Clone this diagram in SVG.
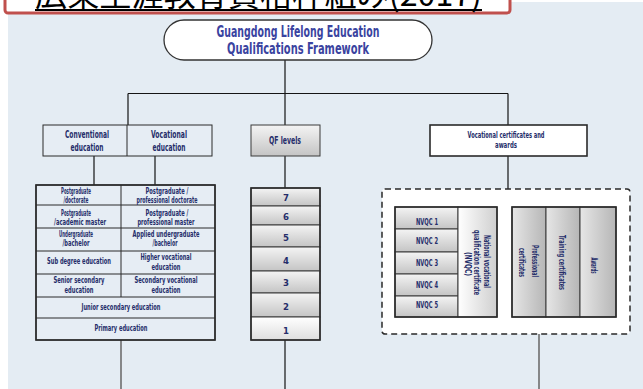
<svg xmlns="http://www.w3.org/2000/svg" width="643" height="389" viewBox="0 0 643 389">
<style>
.t{font-family:"Liberation Sans Narrow","DejaVu Sans Condensed","Liberation Sans",sans-serif;font-stretch:condensed;font-weight:bold;fill:#252d6a;text-anchor:middle;font-size:8.5px}
.hd{font-size:10px}
.num{font-size:9.5px}
.pt{font-family:"Liberation Sans Narrow","DejaVu Sans Condensed","Liberation Sans",sans-serif;font-stretch:condensed;font-weight:bold;font-size:15px;fill:#3a43a0;text-anchor:middle}
.ln{stroke:#151515;stroke-width:1.2;fill:none}
.lg{stroke:#6e6e6e;stroke-width:1.6;fill:none}
.cell{fill:#e6edf4;stroke:#2b2b2b;stroke-width:1}
.gbox{fill:url(#gv);stroke:#3a3a3a;stroke-width:1}
.wbox{fill:url(#gw);stroke:#3a3a3a;stroke-width:1}
.hbox{fill:url(#gh);stroke:#3a3a3a;stroke-width:1}
.edge{fill:none;stroke:#2a2a2a;stroke-width:1.6}
</style>
<defs>
<linearGradient id="gv" x1="0" y1="0" x2="0" y2="1"><stop offset="0" stop-color="#f4f4f4"/><stop offset="1" stop-color="#c4c4c4"/></linearGradient>
<linearGradient id="gw" x1="0" y1="0" x2="0" y2="1"><stop offset="0" stop-color="#ffffff"/><stop offset="1" stop-color="#dedede"/></linearGradient>
<linearGradient id="gh" x1="0" y1="0" x2="1" y2="0"><stop offset="0" stop-color="#e6e6e6"/><stop offset="1" stop-color="#b6b6b6"/></linearGradient>
<linearGradient id="gn" x1="0" y1="0" x2="1" y2="0"><stop offset="0" stop-color="#ffffff"/><stop offset="1" stop-color="#cfcfcf"/></linearGradient>
</defs>

<rect x="8" y="2" width="635" height="387" fill="#e4ecf3"/>

<g id="title">
<rect x="5" y="-12" width="505" height="25" rx="3" fill="#ffffff" stroke="#c0504d" stroke-width="3"/>
<text x="35" y="6" font-family="'Noto Sans CJK JP','Noto Sans CJK SC',sans-serif" font-size="32" fill="#000" textLength="447" lengthAdjust="spacingAndGlyphs">広東生涯教育資格枠組み(2017)</text>
<line x1="35" y1="10" x2="482" y2="10" stroke="#000" stroke-width="2"/>
</g>

<g id="connectors">
<path class="ln" d="M285 60V125M128 93.5H508M128 93.5V125M508 93.5V125M94 156V185M155 156V185M285 156V188M508 156V189M285 340V389"/>
<path class="lg" d="M121 340V389M539 334V389"/>
</g>

<g id="framework">
<rect x="164" y="20" width="268" height="40" rx="20" fill="#ffffff" stroke="#333" stroke-width="1.3"/>
<text class="pt" x="298" y="37" textLength="163" lengthAdjust="spacingAndGlyphs">Guangdong Lifelong Education</text>
<text class="pt" x="298" y="54" textLength="142" lengthAdjust="spacingAndGlyphs">Qualifications Framework</text>
</g>

<g id="education-types">
<rect x="43" y="125" width="169" height="31" class="cell" stroke-width="1.6"/>
<line x1="127" y1="125" x2="127" y2="156" stroke="#2b2b2b" stroke-width="1"/>
<text class="t hd" x="87" y="138" textLength="44" lengthAdjust="spacingAndGlyphs">Conventional</text>
<text class="t hd" x="87" y="151" textLength="33" lengthAdjust="spacingAndGlyphs">education</text>
<text class="t hd" x="169" y="138" textLength="36" lengthAdjust="spacingAndGlyphs">Vocational</text>
<text class="t hd" x="169" y="151" textLength="33" lengthAdjust="spacingAndGlyphs">education</text>
</g>

<g id="education-table">
<rect x="36" y="185" width="179" height="155" class="cell"/>
<path d="M36 205H215M36 228H215M36 251H215M36 274H215M36 297H215M36 318H215M121 185V297" stroke="#2b2b2b" stroke-width="1" fill="none"/>
<rect x="36" y="185" width="179" height="155" class="edge"/>
<text class="t" x="76" y="194" textLength="30" lengthAdjust="spacingAndGlyphs">Postgraduate</text>
<text class="t" x="76" y="202.5" textLength="25" lengthAdjust="spacingAndGlyphs">/doctorate</text>
<text class="t" x="167" y="194" textLength="43" lengthAdjust="spacingAndGlyphs">Postgraduate /</text>
<text class="t" x="167" y="202.5" textLength="61" lengthAdjust="spacingAndGlyphs">professional doctorate</text>
<text class="t" x="76" y="216" textLength="30" lengthAdjust="spacingAndGlyphs">Postgraduate</text>
<text class="t" x="80" y="225" textLength="52" lengthAdjust="spacingAndGlyphs">/academic master</text>
<text class="t" x="167" y="216" textLength="43" lengthAdjust="spacingAndGlyphs">Postgraduate /</text>
<text class="t" x="166" y="225" textLength="57" lengthAdjust="spacingAndGlyphs">professional master</text>
<text class="t" x="76" y="237" textLength="34" lengthAdjust="spacingAndGlyphs">Undergraduate</text>
<text class="t" x="76" y="245.5" textLength="27" lengthAdjust="spacingAndGlyphs">/bachelor</text>
<text class="t" x="166" y="237" textLength="67" lengthAdjust="spacingAndGlyphs">Applied undergraduate</text>
<text class="t" x="165" y="245.5" textLength="25" lengthAdjust="spacingAndGlyphs">/bachelor</text>
<text class="t" x="79" y="264" textLength="64" lengthAdjust="spacingAndGlyphs">Sub degree education</text>
<text class="t" x="166" y="260" textLength="51" lengthAdjust="spacingAndGlyphs">Higher vocational</text>
<text class="t" x="166" y="269.5" textLength="29" lengthAdjust="spacingAndGlyphs">education</text>
<text class="t" x="79" y="283" textLength="51" lengthAdjust="spacingAndGlyphs">Senior secondary</text>
<text class="t" x="79" y="292.5" textLength="29" lengthAdjust="spacingAndGlyphs">education</text>
<text class="t" x="166" y="283" textLength="63" lengthAdjust="spacingAndGlyphs">Secondary vocational</text>
<text class="t" x="166" y="292.5" textLength="29" lengthAdjust="spacingAndGlyphs">education</text>
<text class="t" x="121" y="310" textLength="79" lengthAdjust="spacingAndGlyphs">Junior secondary education</text>
<text class="t" x="121" y="331" textLength="53" lengthAdjust="spacingAndGlyphs">Primary education</text>
</g>

<g id="qf-levels">
<rect x="251" y="125" width="69" height="31" class="gbox" stroke-width="1.6"/>
<text class="t hd" x="285" y="144" textLength="32" lengthAdjust="spacingAndGlyphs">QF levels</text>
</g>

<g id="levels">
<rect x="251" y="188" width="69" height="18" class="gbox"/>
<rect x="251" y="206" width="69" height="19" class="gbox"/>
<rect x="251" y="225" width="69" height="22" class="gbox"/>
<rect x="251" y="247" width="69" height="24" class="gbox"/>
<rect x="251" y="271" width="69" height="22" class="gbox"/>
<rect x="251" y="293" width="69" height="24" class="gbox"/>
<rect x="251" y="317" width="69" height="23" class="wbox"/>
<rect x="251" y="188" width="69" height="152" class="edge"/>
<text class="t num" x="286" y="200.5">7</text>
<text class="t num" x="286" y="219.5">6</text>
<text class="t num" x="286" y="240.5">5</text>
<text class="t num" x="286" y="263.5">4</text>
<text class="t num" x="286" y="285.5">3</text>
<text class="t num" x="286" y="309.5">2</text>
<text class="t num" x="286" y="333.5">1</text>
</g>

<g id="vocational-certificates">
<rect x="430" y="125" width="157" height="31" fill="#ffffff" stroke="#2a2a2a" stroke-width="1.6"/>
<text class="t" x="506" y="138" textLength="77" lengthAdjust="spacingAndGlyphs">Vocational certificates and</text>
<text class="t" x="506" y="148" textLength="22" lengthAdjust="spacingAndGlyphs">awards</text>
</g>

<g id="certificates-group">
<rect x="382" y="189" width="248" height="145" rx="3" fill="#ffffff" stroke="#2a2a2a" stroke-width="1.5" stroke-dasharray="6 4"/>
</g>

<g id="nvqc">
<rect x="395" y="207" width="63" height="22" class="gbox"/>
<rect x="395" y="229" width="63" height="23" class="gbox"/>
<rect x="395" y="252" width="63" height="22" class="gbox"/>
<rect x="395" y="274" width="63" height="22" class="gbox"/>
<rect x="395" y="296" width="63" height="21" class="gbox"/>
<rect x="458" y="207" width="39" height="110" fill="url(#gn)" stroke="#3a3a3a" stroke-width="1"/>
<rect x="395" y="207" width="102" height="110" class="edge"/>
<text class="t" x="427" y="225" textLength="22" lengthAdjust="spacingAndGlyphs">NVQC 1</text>
<text class="t" x="427" y="244" textLength="22" lengthAdjust="spacingAndGlyphs">NVQC 2</text>
<text class="t" x="427" y="266" textLength="22" lengthAdjust="spacingAndGlyphs">NVQC 3</text>
<text class="t" x="427" y="288" textLength="22" lengthAdjust="spacingAndGlyphs">NVQC 4</text>
<text class="t" x="427" y="308" textLength="22" lengthAdjust="spacingAndGlyphs">NVQC 5</text>
<text class="t" transform="translate(484 261.5) rotate(90)" textLength="53" lengthAdjust="spacingAndGlyphs">National vocational</text>
<text class="t" transform="translate(474 262.5) rotate(90)" textLength="65" lengthAdjust="spacingAndGlyphs">qualification certificate</text>
<text class="t" transform="translate(465 264) rotate(90)" textLength="24" lengthAdjust="spacingAndGlyphs">(NVQC)</text>
</g>

<g id="other-certificates">
<rect x="512" y="207" width="34" height="110" class="hbox"/>
<rect x="546" y="207" width="34" height="110" class="hbox"/>
<rect x="580" y="207" width="36" height="110" class="hbox"/>
<rect x="512" y="207" width="104" height="110" class="edge"/>
<text class="t" transform="translate(532 261) rotate(90)" textLength="32" lengthAdjust="spacingAndGlyphs">Professional</text>
<text class="t" transform="translate(519 262.5) rotate(90)" textLength="29" lengthAdjust="spacingAndGlyphs">certificates</text>
<text class="t" transform="translate(559 262.5) rotate(90)" textLength="55" lengthAdjust="spacingAndGlyphs">Training certificates</text>
<text class="t" transform="translate(591 265.5) rotate(90)" textLength="16" lengthAdjust="spacingAndGlyphs">Awards</text>
</g>
</svg>
